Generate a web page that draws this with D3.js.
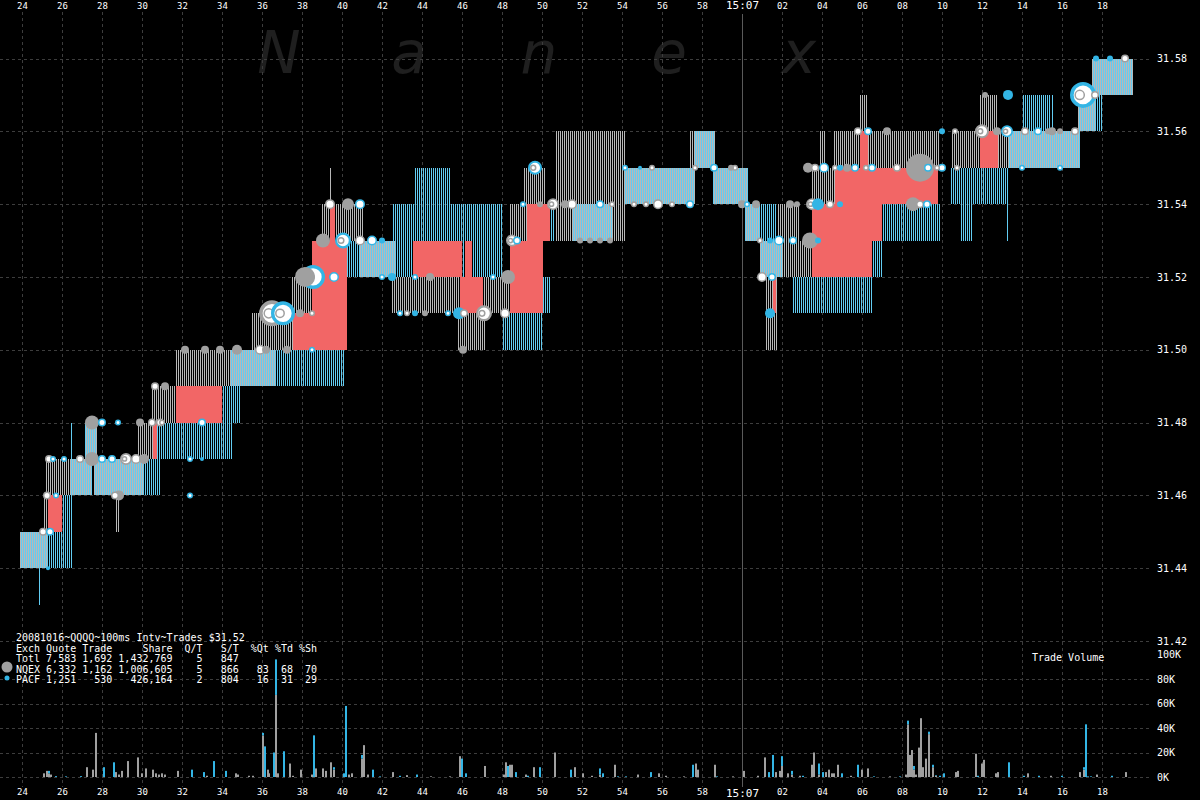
<!DOCTYPE html>
<html><head><meta charset="utf-8">
<script src="https://cdn.jsdelivr.net/npm/d3@7"></script>
<style>body{margin:0;background:#000;overflow:hidden}svg{display:block}</style>
</head><body>
<script>
// ---------- DATA ----------
const secTicks = d3.range(24, 80, 2);            // seconds after 15:06:00
const priceTicks = [31.42,31.44,31.46,31.48,31.50,31.52,31.54,31.56,31.58];
const volTicks = [0,20,40,60,80,100];            // K shares
const watermark = ["N","a","n","e","x"];
const legendLines = [
  "20081016~QQQQ~100ms Intv~Trades $31.52",
  "Exch Quote Trade     Share  Q/T   S/T  %Qt %Td %Sh",
  "Totl 7,583 1,692 1,432,769    5   847",
  "NQEX 6,332 1,162 1,006,605    5   866   83  68  70",
  "PACF 1,251   530   426,164    2   804   16  31  29"
];
// quote bands [tStart, tEnd, low, high]
const nqQuotes = [
 [23.9,25.25,31.44,31.45],[25.1,25.3,31.45,31.46],[25.2,26.4,31.46,31.47],[26.4,27.5,31.46,31.47],
 [27.15,27.75,31.47,31.48],[27.6,30.05,31.46,31.47],[28.7,28.9,31.45,31.46],[29.75,30.65,31.47,31.48],
 [30.5,31.7,31.48,31.49],[31.7,34.5,31.49,31.50],[34.4,35.4,31.49,31.50],[35.5,37.55,31.50,31.51],
 [35.4,36.65,31.49,31.50],[37.5,38.5,31.51,31.52],[38.5,39.05,31.52,31.53],[39.0,41.05,31.53,31.54],
 [39.35,39.5,31.54,31.55],[40.9,42.65,31.52,31.53],[42.5,45.9,31.51,31.52],[45.8,47.15,31.50,31.51],
 [47.05,48.4,31.51,31.52],[48.4,49.25,31.53,31.54],[49.05,50.15,31.54,31.55],[50.65,54.15,31.53,31.56],
 [54.15,57.65,31.54,31.55],[57.4,57.9,31.55,31.56],[57.65,58.65,31.55,31.56],[58.55,60.3,31.54,31.55],
 [60.15,60.9,31.53,31.54],[61.75,62.9,31.53,31.54],[61.15,61.8,31.50,31.52],[60.9,62.0,31.52,31.53],
 [62.0,63.5,31.52,31.53],[63.5,64.75,31.54,31.55],[63.9,64.15,31.55,31.56],[64.55,69.9,31.55,31.56],
 [65.9,66.25,31.56,31.57],[70.5,71.9,31.55,31.56],[71.9,72.75,31.56,31.57],[72.8,73.3,31.55,31.56],
 [73.3,76.9,31.55,31.56],[76.8,77.65,31.56,31.57],[77.5,79.55,31.57,31.58]
];
const pcQuotes = [
 [23.9,25.25,31.44,31.45],[24.85,24.9,31.43,31.44],[25.25,26.0,31.44,31.45],[26.0,26.5,31.44,31.46],
 [26.4,27.5,31.46,31.47],[26.45,26.5,31.47,31.48],[27.15,27.75,31.47,31.48],[27.6,30.9,31.46,31.47],
 [30.75,34.5,31.47,31.48],[34.0,34.9,31.48,31.49],[34.4,35.4,31.49,31.50],[35.4,40.15,31.49,31.50],
 [40.25,40.9,31.52,31.53],[40.9,42.65,31.52,31.53],[42.55,43.65,31.52,31.54],[43.65,45.4,31.53,31.55],
 [45.4,48.0,31.52,31.54],[48.0,50.05,31.50,31.51],[50.05,50.4,31.51,31.52],[50.05,50.65,31.53,31.54],
 [51.5,53.5,31.53,31.54],
 [54.15,57.65,31.54,31.55],[57.65,58.65,31.55,31.56],[58.55,60.3,31.54,31.55],[60.15,60.9,31.53,31.54],
 [60.9,61.75,31.52,31.54],[60.9,62.0,31.52,31.53],[62.55,66.5,31.51,31.52],[66.5,67.0,31.52,31.53],
 [67.0,69.9,31.53,31.54],[70.4,73.3,31.54,31.55],[70.9,71.5,31.53,31.54],[73.25,73.3,31.53,31.55],
 [73.3,76.9,31.55,31.56],[74.0,75.4,31.56,31.57],[75.5,75.55,31.56,31.57],[76.8,78.0,31.56,31.57],
 [77.5,79.55,31.57,31.58]
];
const crossed = [
 [25.3,26.0,31.45,31.46],[30.55,30.75,31.47,31.48],[31.7,34.0,31.48,31.49],[37.55,40.25,31.50,31.51],
 [38.5,40.25,31.51,31.53],[39.4,39.65,31.53,31.54],[43.55,46.0,31.52,31.53],[46.15,46.5,31.52,31.53],
 [45.9,47.05,31.51,31.52],[48.4,50.05,31.51,31.53],[49.25,50.4,31.53,31.54],[61.55,61.7,31.51,31.52],
 [63.5,66.5,31.52,31.53],[63.5,67.0,31.53,31.54],[64.65,69.8,31.54,31.55],[65.9,66.3,31.55,31.56],
 [71.9,72.8,31.55,31.56]
];
// trades [t, price, exchange, radius, style f=filled w=ring]
const trades = [
 [25.05,31.45,"N",4,"w"],[25.4,31.45,"P",4,"w"],[25.3,31.44,"P",2,"f"],[25.25,31.46,"N",4,"w"],[25.7,31.46,"P",3,"w"],
 [25.35,31.47,"N",4,"w"],[25.55,31.47,"P",3,"w"],[26.1,31.47,"P",3,"w"],[26.9,31.47,"N",4,"w"],[27.5,31.47,"N",7,"f"],
 [27.5,31.48,"N",7,"f"],[28.0,31.48,"P",4,"w"],[28.8,31.48,"P",3,"w"],[28.0,31.47,"P",4,"w"],[28.5,31.47,"P",4,"w"],
 [29.2,31.47,"N",6,"w"],[29.7,31.47,"N",5,"w"],[30.1,31.47,"N",5,"f"],[28.85,31.46,"N",5,"f"],[28.65,31.46,"N",4,"w"],
 [29.9,31.48,"N",4,"f"],[30.5,31.48,"N",4,"w"],[30.9,31.48,"N",4,"w"],[31.0,31.48,"N",3,"w"],[32.4,31.46,"P",3,"w"],
 [32.4,31.47,"P",3,"w"],[33.0,31.47,"P",2,"f"],[33.0,31.48,"P",4,"w"],[30.65,31.49,"N",4,"w"],[31.15,31.49,"N",4,"f"],
 [32.15,31.50,"N",4,"f"],[33.15,31.50,"N",4,"f"],[33.9,31.50,"N",4,"f"],[34.75,31.50,"N",5,"f"],[35.9,31.50,"N",5,"w"],
 [36.2,31.50,"N",4,"f"],[37.25,31.50,"N",4,"f"],[38.5,31.50,"P",3,"w"],[36.5,31.51,"N",13,"w"],[37.05,31.51,"P",12,"w"],
 [37.9,31.51,"N",4,"f"],[38.5,31.51,"N",3,"w"],[38.15,31.52,"N",10,"f"],[38.55,31.52,"P",12,"w"],[39.6,31.52,"P",5,"w"],
 [39.05,31.53,"N",7,"f"],[40.05,31.53,"P",8,"w"],[40.9,31.53,"N",5,"w"],[41.5,31.53,"P",5,"w"],[42.0,31.53,"P",3,"f"],
 [39.4,31.54,"N",5,"w"],[40.3,31.54,"N",6,"f"],[40.9,31.54,"P",5,"w"],[42.0,31.52,"P",3,"w"],[42.5,31.52,"P",4,"f"],
 [43.65,31.52,"P",3,"w"],[44.4,31.52,"N",4,"f"],[47.55,31.52,"P",3,"w"],[48.3,31.52,"N",7,"f"],[42.9,31.51,"P",3,"w"],
 [43.25,31.51,"N",3,"w"],[43.65,31.51,"P",3,"f"],[44.15,31.51,"N",3,"f"],[45.3,31.51,"P",3,"w"],[45.85,31.51,"P",6,"f"],
 [46.1,31.51,"N",4,"w"],[47.1,31.51,"N",8,"w"],[48.15,31.51,"N",5,"w"],[46.05,31.50,"N",4,"f"],[48.5,31.53,"N",6,"w"],
 [48.75,31.53,"P",4,"w"],[49.65,31.55,"P",7,"w"],[49.05,31.54,"P",3,"w"],[49.9,31.54,"N",3,"f"],[50.55,31.54,"N",6,"w"],
 [51.15,31.54,"N",4,"f"],[51.5,31.54,"N",5,"w"],[51.9,31.53,"N",3,"f"],[52.4,31.53,"N",3,"f"],[52.9,31.53,"N",3,"f"],
 [53.4,31.53,"N",3,"f"],[52.9,31.54,"P",4,"w"],[53.5,31.54,"N",3,"w"],[54.15,31.55,"P",3,"w"],[54.9,31.55,"P",2,"f"],
 [55.5,31.55,"N",3,"w"],[54.6,31.54,"N",3,"w"],[55.2,31.54,"N",3,"w"],[55.8,31.54,"N",5,"w"],[56.5,31.54,"N",3,"w"],
 [57.4,31.54,"P",4,"w"],[57.65,31.55,"N",3,"w"],[59.65,31.55,"N",3,"w"],[58.6,31.55,"P",4,"w"],[59.45,31.55,"N",3,"f"],
 [60.0,31.54,"N",4,"f"],[60.7,31.54,"N",4,"f"],[60.25,31.54,"P",3,"w"],[60.9,31.53,"N",3,"w"],[61.4,31.53,"P",3,"f"],
 [61.85,31.53,"P",5,"w"],[62.55,31.53,"P",4,"w"],[63.4,31.53,"N",8,"f"],[63.8,31.53,"P",3,"f"],[61.0,31.52,"N",5,"w"],
 [61.5,31.52,"P",4,"w"],[61.4,31.51,"P",5,"f"],[62.4,31.54,"N",4,"f"],[62.75,31.54,"N",3,"f"],[63.5,31.54,"N",6,"w"],
 [63.8,31.54,"P",6,"f"],[64.4,31.54,"N",4,"w"],[64.9,31.54,"P",3,"f"],[63.3,31.55,"N",5,"f"],[63.65,31.55,"N",4,"w"],
 [64.1,31.55,"P",5,"w"],[64.65,31.55,"N",3,"w"],[64.9,31.55,"P",3,"f"],[65.25,31.55,"N",4,"f"],[65.65,31.55,"P",4,"w"],
 [66.2,31.55,"N",3,"w"],[66.5,31.55,"P",4,"w"],[67.75,31.55,"N",4,"w"],[68.9,31.55,"N",14,"f"],[69.3,31.55,"P",4,"w"],
 [69.75,31.55,"N",3,"w"],[70.0,31.55,"P",4,"w"],[68.55,31.54,"N",7,"f"],[68.9,31.54,"N",4,"w"],[69.25,31.54,"P",4,"w"],
 [65.8,31.56,"N",4,"w"],[66.3,31.56,"P",4,"w"],[67.25,31.56,"N",4,"f"],[70.0,31.56,"P",3,"f"],[70.65,31.56,"N",3,"w"],
 [72.0,31.56,"N",7,"w"],[72.75,31.56,"N",4,"f"],[73.25,31.56,"P",6,"w"],[74.15,31.56,"N",4,"w"],[74.8,31.56,"P",4,"w"],
 [75.3,31.56,"N",3,"f"],[75.5,31.56,"N",4,"f"],[75.9,31.56,"N",3,"f"],[76.65,31.56,"N",4,"w"],[70.75,31.55,"N",3,"w"],
 [74.0,31.55,"P",3,"w"],[75.9,31.55,"P",3,"w"],[73.3,31.57,"P",5,"f"],[72.15,31.57,"N",3,"f"],[77.05,31.57,"P",13,"w"],
 [77.65,31.57,"N",4,"w"],[77.7,31.58,"P",3,"f"],[78.4,31.58,"P",3,"f"],[79.15,31.58,"N",4,"w"]
];
// volume per 100ms [t, NQEX K, PACF K]
const volume = [
 [25.05,3,0],[25.2,5,0],[25.3,3,2],[25.4,2,0],[25.65,0,0.7],[26.15,0,0.5],[26.9,0,0.7],[27.2,8,0],[27.5,6,0],[27.65,36,0],
 [28.05,0,8],[28.55,0,12],[28.65,4,0],[28.8,2,0],[28.95,5,0],[29.25,13,0],[29.75,16,0],[29.95,3,0],[30.15,7,0],[30.5,6,0],
 [30.65,3,0],[30.8,2,0],[30.95,3,0],[31.1,2,0],[31.75,5,0],[32.45,0,6],[33.05,0,4],[33.2,1,0],[33.55,0,13],[34.15,0,5],
 [34.65,3,0],[34.75,2,0],[35.3,1,0],[35.5,1,0],[36.0,34,2],[36.1,0,25],[36.25,6,0],[36.3,3,0],[36.55,0,20],[36.65,67,29],
 [36.75,3,0],[37.05,0,21],[37.35,11,0],[37.5,1,0],[37.9,6,0],[38.45,2,0],[38.55,0,34],[38.65,7,0],[39.0,7,0],[39.15,5,0],
 [39.4,12,0],[39.55,6,2],[40.05,0,3],[40.15,0,58],[40.3,2,0],[40.45,3,0],[40.95,15,3],[41.05,26,0],[41.25,2,0],[41.5,0,6],
 [41.85,0,0.5],[42.5,4,0],[42.85,0,1],[43.2,1.5,0],[43.7,0,2],[44.4,0.5,0],[45.35,0.5,0],[45.85,17,0],[45.95,0,15],[46.15,0,3],
 [47.1,9,0],[48.05,2,0],[48.15,12,0],[48.25,0,9],[48.35,10,0],[48.45,10,0],[48.65,0,4],[49.15,2,0],[49.25,0,1],[49.55,8,0],
 [49.85,0,8],[50.6,20,0],[51.4,0,6],[51.6,8,0],[52.0,3,0],[52.45,1,0],[52.85,2,5],[53.0,0,3],[53.6,10,0],[53.75,0,0.5],
 [54.15,0,0.5],[54.75,2,0],[55.4,0,4],[55.8,3,0],[56.15,1,0],[57.05,0.5,0],[57.5,0,10],[57.65,11,0],[57.75,6,0],[58.6,10,0],
 [58.7,0,0.5],[59.5,0.5,0],[60.05,5,0],[60.75,1,0],[61.1,16,0],[61.3,0,4],[61.5,0,18],[61.65,4,0],[61.85,5,0],[61.95,9,8],
 [62.25,3,0],[62.45,2,3],[62.85,1,0],[63.0,0,1],[63.45,10,0],[63.55,20,0],[63.8,2,9],[64.0,0,4],[64.15,4,0],[64.3,6,0],
 [64.45,3,0],[64.55,3,0],[64.75,10,0],[64.95,0,3],[65.4,1,0],[65.75,0,10],[65.95,6,0],[66.25,7,0],[66.55,0,0.5],[67.35,0.5,0],
 [67.85,0,0.5],[68.15,2,0],[68.25,43,3],[68.35,18,0],[68.45,22,0],[68.55,6,3],[68.65,2,0],[68.8,24,0],[68.9,48,0],[69.0,8,0],
 [69.15,15,0],[69.3,35,2],[69.5,8,2],[69.65,1,0.5],[69.85,0,1],[70.05,0,3],[70.65,4,0],[70.75,5,0],[71.65,19,0],[71.75,0,1],
 [71.95,11,0],[72.05,14,0],[72.65,3,0],[72.75,4,0],[73.3,0,12],[74.05,0,1],[74.25,3,0],[74.8,0,1],[75.4,1,0],[75.95,0,1],
 [76.85,4,0],[77.05,6,2],[77.15,0,43],[77.25,0,0.5],[77.4,0,0.5],[77.7,2,0],[78.45,0,1],[79.15,4,0]
];

// ---------- DRAW ----------
const W = 1200, H = 800;
const GRAY = "#a0a0a0", BLUE = "#33b5e5", RED = "#f26666";
const MONO = "'DejaVu Sans Mono', 'Liberation Mono', monospace";
const x = d3.scaleLinear().domain([22.9, 80.4]).range([0, 1150]);
const y = d3.scaleLinear().domain([31.42, 31.58]).range([641, 58.5]);
const yv = d3.scaleLinear().domain([0, 100]).range([777, 654.5]);

const svg = d3.select("body").append("svg").attr("width", W).attr("height", H)
  .style("background", "#000");
const defs = svg.append("defs");
defs.append("clipPath").attr("id", "plot").append("rect")
  .attr("x", 0).attr("y", 12).attr("width", 1152).attr("height", 630);

// watermark
svg.append("g").selectAll("text").data(watermark).join("text")
  .attr("x", (d, i) => 279 + i * 130).attr("y", 73)
  .attr("text-anchor", "middle")
  .attr("font-family", "'DejaVu Sans', sans-serif").attr("font-style", "italic")
  .attr("font-size", 58).attr("fill", "#1f1f1f").text(d => d);

// grid
const grid = svg.append("g").attr("stroke", "#3d3d3d").attr("stroke-dasharray", "3,3");
grid.selectAll("line.v").data(secTicks.filter(s => s !== 60)).join("line")
  .attr("class", "v")
  .attr("x1", d => Math.round(x(d)) + 0.5).attr("x2", d => Math.round(x(d)) + 0.5)
  .attr("y1", 12).attr("y2", 787);
grid.selectAll("line.hp").data(priceTicks).join("line").attr("class", "hp")
  .attr("x1", 0).attr("x2", 1152)
  .attr("y1", d => Math.round(y(d)) + 0.5).attr("y2", d => Math.round(y(d)) + 0.5);
grid.selectAll("line.hv").data(volTicks.filter(v => v < 100)).join("line").attr("class", "hv")
  .attr("x1", 0).attr("x2", 1152)
  .attr("y1", d => Math.round(yv(d)) + 0.5).attr("y2", d => Math.round(yv(d)) + 0.5);
svg.append("line").attr("x1", Math.round(x(60)) + 0.5).attr("x2", Math.round(x(60)) + 0.5)
  .attr("y1", 14).attr("y2", 787).attr("stroke", "#5a5a5a");

// quote bands: one 1px line per 100ms interval (2px), NQEX on even columns, PACF on odd
const plot = svg.append("g").attr("clip-path", "url(#plot)");
function stripes(data, parity, col) {
  const d = data.map(b => {
    const a = Math.round(x(b[0])), e = Math.max(Math.round(x(b[1])), a + 1);
    const yt = Math.round(y(b[3])), yb = Math.round(y(b[2]));
    let s = "";
    for (let px = a; px < e; px++) {
      if (e - a <= 2 || px % 2 === parity) s += "M" + (px + 0.5) + "," + yt + "V" + yb;
    }
    return s;
  }).join("");
  plot.append("path").attr("d", d).attr("fill", "none").attr("stroke", col)
    .attr("stroke-width", 1).attr("shape-rendering", "crispEdges");
}
stripes(nqQuotes, 0, "#b8b8b8");
stripes(pcQuotes, 1, "#62ccf2");
plot.append("g").selectAll("rect").data(crossed).join("rect")
  .attr("x", d => Math.round(x(d[0])))
  .attr("width", d => Math.max(1, Math.round(x(d[1])) - Math.round(x(d[0]))))
  .attr("y", d => Math.round(y(d[3])))
  .attr("height", d => Math.round(y(d[2])) - Math.round(y(d[3])))
  .attr("fill", RED);

// trades
const tr = trades.slice().sort((a, b) => b[3] - a[3]);
const tg = plot.append("g");
tr.forEach(d => {
  const col = d[2] === "N" ? GRAY : BLUE;
  const cx = x(d[0]), cy = y(d[1]), r = d[3];
  if (d[4] === "f") {
    tg.append("circle").attr("cx", cx).attr("cy", cy).attr("r", r).attr("fill", col);
  } else {
    const sw = Math.max(1.5, r * 0.28);
    tg.append("circle").attr("cx", cx).attr("cy", cy).attr("r", r - sw / 2)
      .attr("fill", "#fff").attr("stroke", col).attr("stroke-width", sw);
    if (r >= 6) tg.append("circle").attr("cx", cx - r * 0.25).attr("cy", cy).attr("r", r * 0.35)
      .attr("fill", "none").attr("stroke", GRAY).attr("stroke-width", 1.5);
  }
});

// volume bars (stacked: NQEX bottom, PACF top)
const vg = svg.append("g");
vg.selectAll("rect.n").data(volume.filter(d => d[1] > 0)).join("rect").attr("class", "n")
  .attr("x", d => Math.round(x(d[0]))).attr("width", 2)
  .attr("y", d => yv(d[1])).attr("height", d => yv(0) - yv(d[1])).attr("fill", GRAY);
vg.selectAll("rect.p").data(volume.filter(d => d[2] > 0)).join("rect").attr("class", "p")
  .attr("x", d => Math.round(x(d[0]))).attr("width", 2)
  .attr("y", d => yv(d[1] + d[2])).attr("height", d => yv(d[1]) - yv(d[1] + d[2])).attr("fill", BLUE);

// axes
const fmtSec = s => s === 60 ? "15:07" : d3.format("02")(s % 60);
function styleAxis(g, size) {
  g.select(".domain").remove();
  g.selectAll("line").remove();
  g.selectAll("text").attr("fill", "#fff").attr("font-family", MONO).attr("font-size", size);
}
const topAx = svg.append("g").attr("transform", "translate(0,10)")
  .call(d3.axisTop(x).tickValues(secTicks).tickFormat(fmtSec).tickSize(0).tickPadding(1));
styleAxis(topAx, 9);
topAx.selectAll("text").filter(d => d === 60).attr("font-size", 11);
const botAx = svg.append("g").attr("transform", "translate(0,787)")
  .call(d3.axisBottom(x).tickValues(secTicks).tickFormat(fmtSec).tickSize(0).tickPadding(2));
styleAxis(botAx, 9);
botAx.selectAll("text").filter(d => d === 60).attr("font-size", 11);
const prAx = svg.append("g").attr("transform", "translate(1157,0)")
  .call(d3.axisRight(y).tickValues(priceTicks).tickFormat(d3.format(".2f")).tickSize(0).tickPadding(0));
styleAxis(prAx, 10);
const vAx = svg.append("g").attr("transform", "translate(1157,0)")
  .call(d3.axisRight(yv).tickValues(volTicks).tickFormat(d => d + "K").tickSize(0).tickPadding(0));
styleAxis(vAx, 10);

svg.append("text").attr("x", 1032).attr("y", 661).attr("fill", "#fff")
  .attr("font-family", MONO).attr("font-size", 10).text("Trade Volume");

// legend
svg.append("g").selectAll("text").data(legendLines).join("text")
  .attr("x", 16).attr("y", (d, i) => 641 + i * 10.6)
  .attr("fill", "#fff").attr("font-family", MONO).attr("font-size", 10)
  .style("white-space", "pre").text(d => d);
svg.append("circle").attr("cx", 7).attr("cy", 667).attr("r", 5.5).attr("fill", GRAY);
svg.append("circle").attr("cx", 7).attr("cy", 678).attr("r", 2.5).attr("fill", BLUE);
</script>
</body></html>
